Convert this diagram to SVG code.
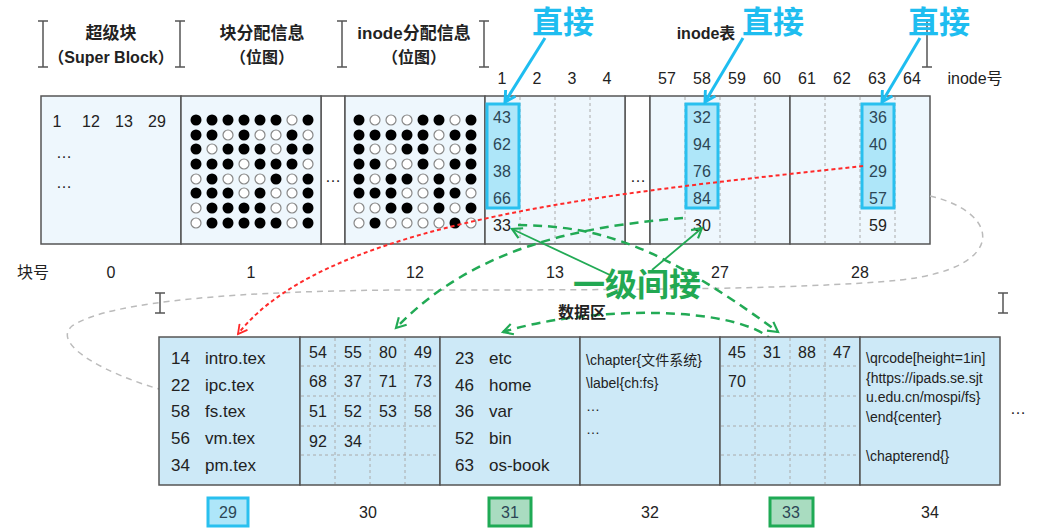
<svg xmlns="http://www.w3.org/2000/svg" xmlns:xlink="http://www.w3.org/1999/xlink" width="1048" height="531" viewBox="0 0 1048 531">
<style>
text{font-family:"Liberation Sans","Noto Sans CJK SC",sans-serif;fill:#222}
.hd{font-size:17px;font-weight:bold;text-anchor:middle}
.sub{font-size:16px;font-weight:bold;text-anchor:middle}
.n{font-size:16px;text-anchor:middle}
.hl{font-size:16px;text-anchor:middle;fill:#2c4656}
.t{font-size:17px}
.s{font-size:14px}
.blk{fill:#eef7fd;stroke:#555;stroke-width:1.5}
.blk2{fill:#cde9f7;stroke:#555;stroke-width:1.5}
.dv{stroke:#aaa;stroke-width:1;stroke-dasharray:3,3}
.br{stroke:#555;stroke-width:1.5;fill:none}
.hbox{fill:#aee6f9;stroke:#29c0ef;stroke-width:3}
.gbox{fill:#a9dcc0;stroke:#1faa55;stroke-width:3}
.f{fill:#000}
.o{fill:#fff;stroke:#888;stroke-width:1.2}
.big{font-size:31px;font-weight:bold;fill:#1ebdf0;text-anchor:middle}
.gbig{font-size:32px;font-weight:bold;fill:#22a852;text-anchor:middle}
.cy{stroke:#1ebdf0;stroke-width:3;fill:none}
.gd{stroke:#22aa55;stroke-width:2.5;fill:none;stroke-dasharray:9,6}
.gs{stroke:#22aa55;stroke-width:1.8;fill:none}
.rd{stroke:#ff2a2a;stroke-width:2;fill:none;stroke-dasharray:4,3}
.gr{stroke:#bbb;stroke-width:1.5;fill:none;stroke-dasharray:6,5}
</style>
<defs>
<circle id="f" r="5.5" class="f"/>
<circle id="o" r="5" class="o"/>
<marker id="ac" viewBox="0 0 12 12" refX="10" refY="6" markerWidth="14" markerHeight="14" markerUnits="userSpaceOnUse" orient="auto"><path d="M1,1 L10,6 L1,11" fill="none" stroke="#1ebdf0" stroke-width="2.5"/></marker>
<marker id="ag" viewBox="0 0 12 12" refX="10" refY="6" markerWidth="13" markerHeight="13" markerUnits="userSpaceOnUse" orient="auto"><path d="M1,1 L10,6 L1,11" fill="none" stroke="#22aa55" stroke-width="2"/></marker>
<marker id="ar" viewBox="0 0 12 12" refX="10" refY="6" markerWidth="12" markerHeight="12" markerUnits="userSpaceOnUse" orient="auto"><path d="M1,1 L10,6 L1,11" fill="none" stroke="#ff2a2a" stroke-width="1.8"/></marker>
</defs>
<rect width="1048" height="531" fill="#fff"/>

<g id="header">
<path class="br" d="M43,21V67M38,21H48M38,67H48"/>
<path class="br" d="M180,21V67M175,21H185M175,67H185"/>
<path class="br" d="M342,21V67M337,21H347M337,67H347"/>
<path class="br" d="M484,21V67M479,21H489M479,67H489"/>
<path class="br" d="M927,20V67M922,20H932M922,67H932"/>
<text class="hd" x="111" y="39">超级块</text>
<text class="sub" x="111" y="63">（Super Block）</text>
<text class="hd" x="262" y="39">块分配信息</text>
<text class="sub" x="262" y="63">（位图）</text>
<text class="hd" x="414" y="39">inode分配信息</text>
<text class="sub" x="414" y="63">（位图）</text>
<text class="sub" x="706" y="39">inode表</text>
<g id="inode-nums">
<text class="n" x="502" y="84">1</text><text class="n" x="537" y="84">2</text><text class="n" x="572" y="84">3</text><text class="n" x="607" y="84">4</text>
<text class="n" x="667" y="84">57</text><text class="n" x="702" y="84">58</text><text class="n" x="737" y="84">59</text><text class="n" x="772" y="84">60</text>
<text class="n" x="807" y="84">61</text><text class="n" x="842" y="84">62</text><text class="n" x="877" y="84">63</text><text class="n" x="912" y="84">64</text>
<text class="n" x="975" y="84">inode号</text>
</g>
</g>

<g id="top-row">
<rect x="321" y="96" width="24" height="148" fill="#fff" stroke="#555" stroke-width="1.5"/>
<text class="n" x="333" y="182">…</text>
<rect x="625" y="96" width="25" height="148" fill="#fff" stroke="#555" stroke-width="1.5"/>
<text class="n" x="638" y="182">…</text>
<g id="block0">
<rect class="blk" x="41" y="96" width="140" height="148"/>
<text class="n" x="57" y="127">1</text><text class="n" x="91" y="127">12</text><text class="n" x="124" y="127">13</text><text class="n" x="157" y="127">29</text>
<text class="n" x="64" y="158">…</text><text class="n" x="64" y="188">…</text>
</g>
<g id="block1">
<rect class="blk" x="181" y="96" width="140" height="148"/>
<use href="#f" x="196" y="120"/><use href="#f" x="212" y="120"/><use href="#f" x="228" y="120"/><use href="#f" x="244" y="120"/><use href="#f" x="260" y="120"/><use href="#f" x="276" y="120"/><use href="#o" x="292" y="120"/><use href="#f" x="308" y="120"/>
<use href="#f" x="196" y="135"/><use href="#f" x="212" y="135"/><use href="#o" x="228" y="135"/><use href="#f" x="244" y="135"/><use href="#o" x="260" y="135"/><use href="#o" x="276" y="135"/><use href="#f" x="292" y="135"/><use href="#o" x="308" y="135"/>
<use href="#f" x="196" y="149"/><use href="#o" x="212" y="149"/><use href="#f" x="228" y="149"/><use href="#f" x="244" y="149"/><use href="#f" x="260" y="149"/><use href="#o" x="276" y="149"/><use href="#f" x="292" y="149"/><use href="#f" x="308" y="149"/>
<use href="#f" x="196" y="164"/><use href="#f" x="212" y="164"/><use href="#f" x="228" y="164"/><use href="#o" x="244" y="164"/><use href="#f" x="260" y="164"/><use href="#f" x="276" y="164"/><use href="#f" x="292" y="164"/><use href="#o" x="308" y="164"/>
<use href="#o" x="196" y="179"/><use href="#f" x="212" y="179"/><use href="#o" x="228" y="179"/><use href="#o" x="244" y="179"/><use href="#o" x="260" y="179"/><use href="#f" x="276" y="179"/><use href="#o" x="292" y="179"/><use href="#f" x="308" y="179"/>
<use href="#f" x="196" y="193"/><use href="#f" x="212" y="193"/><use href="#f" x="228" y="193"/><use href="#o" x="244" y="193"/><use href="#f" x="260" y="193"/><use href="#o" x="276" y="193"/><use href="#o" x="292" y="193"/><use href="#f" x="308" y="193"/>
<use href="#o" x="196" y="208"/><use href="#f" x="212" y="208"/><use href="#f" x="228" y="208"/><use href="#f" x="244" y="208"/><use href="#f" x="260" y="208"/><use href="#o" x="276" y="208"/><use href="#o" x="292" y="208"/><use href="#f" x="308" y="208"/>
<use href="#o" x="196" y="223"/><use href="#f" x="212" y="223"/><use href="#f" x="228" y="223"/><use href="#f" x="244" y="223"/><use href="#f" x="260" y="223"/><use href="#f" x="276" y="223"/><use href="#o" x="292" y="223"/><use href="#f" x="308" y="223"/>
</g>
<g id="block12">
<rect class="blk" x="345" y="96" width="140" height="148"/>
<use href="#f" x="359" y="120"/><use href="#o" x="375" y="120"/><use href="#o" x="391" y="120"/><use href="#o" x="407" y="120"/><use href="#f" x="423" y="120"/><use href="#f" x="439" y="120"/><use href="#o" x="455" y="120"/><use href="#f" x="471" y="120"/>
<use href="#f" x="359" y="135"/><use href="#f" x="375" y="135"/><use href="#f" x="391" y="135"/><use href="#f" x="407" y="135"/><use href="#f" x="423" y="135"/><use href="#o" x="439" y="135"/><use href="#f" x="455" y="135"/><use href="#f" x="471" y="135"/>
<use href="#f" x="359" y="149"/><use href="#o" x="375" y="149"/><use href="#o" x="391" y="149"/><use href="#f" x="407" y="149"/><use href="#f" x="423" y="149"/><use href="#o" x="439" y="149"/><use href="#o" x="455" y="149"/><use href="#f" x="471" y="149"/>
<use href="#f" x="359" y="164"/><use href="#f" x="375" y="164"/><use href="#o" x="391" y="164"/><use href="#o" x="407" y="164"/><use href="#f" x="423" y="164"/><use href="#o" x="439" y="164"/><use href="#f" x="455" y="164"/><use href="#f" x="471" y="164"/>
<use href="#f" x="359" y="179"/><use href="#o" x="375" y="179"/><use href="#f" x="391" y="179"/><use href="#f" x="407" y="179"/><use href="#o" x="423" y="179"/><use href="#f" x="439" y="179"/><use href="#o" x="455" y="179"/><use href="#f" x="471" y="179"/>
<use href="#f" x="359" y="193"/><use href="#f" x="375" y="193"/><use href="#f" x="391" y="193"/><use href="#o" x="407" y="193"/><use href="#o" x="423" y="193"/><use href="#f" x="439" y="193"/><use href="#f" x="455" y="193"/><use href="#o" x="471" y="193"/>
<use href="#o" x="359" y="208"/><use href="#o" x="375" y="208"/><use href="#f" x="391" y="208"/><use href="#f" x="407" y="208"/><use href="#o" x="423" y="208"/><use href="#f" x="439" y="208"/><use href="#o" x="455" y="208"/><use href="#f" x="471" y="208"/>
<use href="#o" x="359" y="223"/><use href="#f" x="375" y="223"/><use href="#o" x="391" y="223"/><use href="#o" x="407" y="223"/><use href="#o" x="423" y="223"/><use href="#o" x="439" y="223"/><use href="#f" x="455" y="223"/><use href="#o" x="471" y="223"/>
</g>
<g id="block13">
<rect class="blk" x="485" y="96" width="140" height="148"/>
<path class="dv" d="M520,97V243M555,97V243M590,97V243"/>
<rect class="hbox" x="487" y="104" width="32" height="104"/>
<text class="hl" x="502" y="123">43</text><text class="hl" x="502" y="150">62</text><text class="hl" x="502" y="177">38</text><text class="hl" x="502" y="204">66</text>
<text class="n" x="502" y="231">33</text>
</g>
<g id="block27">
<rect class="blk" x="650" y="96" width="140" height="148"/>
<path class="dv" d="M685,97V243M720,97V243M755,97V243"/>
<rect class="hbox" x="686" y="104" width="32" height="104"/>
<text class="hl" x="702" y="123">32</text><text class="hl" x="702" y="150">94</text><text class="hl" x="702" y="177">76</text><text class="hl" x="702" y="204">84</text>
<text class="n" x="702" y="231">30</text>
</g>
<g id="block28">
<rect class="blk" x="790" y="96" width="140" height="148"/>
<path class="dv" d="M825,97V243M860,97V243M895,97V243"/>
<rect class="hbox" x="862" y="104" width="32" height="104"/>
<text class="hl" x="878" y="123">36</text><text class="hl" x="878" y="150">40</text><text class="hl" x="878" y="177">29</text><text class="hl" x="878" y="204">57</text>
<text class="n" x="878" y="231">59</text>
</g>
<g id="top-labels">
<text class="n" x="33" y="278">块号</text>
<text class="n" x="111" y="278">0</text><text class="n" x="251" y="278">1</text><text class="n" x="415" y="278">12</text>
<text class="n" x="555" y="278">13</text><text class="n" x="720" y="278">27</text><text class="n" x="860" y="278">28</text>
</g>
</g>

<g id="connectors">
<path class="gr" d="M930,196 C1000,212 1010,268 900,280 C800,290 600,290 400,290 C250,291 110,300 72,326 C50,345 110,375 159,389"/>
<path class="br" d="M160,293V313M155,293H165M155,313H165"/>
<path class="br" d="M1003,293V313M998,293H1008M998,313H1008"/>
<path class="rd" d="M863,166 C650,190 330,215 238,334" marker-end="url(#ar)"/>
<path class="gd" d="M518,225 C600,226 660,245 778,332" marker-end="url(#ag)"/>
<path class="gd" d="M683,218 C600,225 480,240 396,328" marker-end="url(#ag)"/>
<path class="gd" d="M774,342 C740,305 590,305 503,332" marker-end="url(#ag)"/>
<path class="gs" d="M610,275 L512,229" marker-end="url(#ag)"/>
<path class="gs" d="M652,270 L702,228" marker-end="url(#ag)"/>
<path class="cy" d="M545,38 L505,102" marker-end="url(#ac)"/>
<path class="cy" d="M743,38 L705,102" marker-end="url(#ac)"/>
<path class="cy" d="M920,38 L882,102" marker-end="url(#ac)"/>
</g>

<g id="labels">
<text class="big" x="563" y="33">直接</text>
<text class="big" x="773" y="33">直接</text>
<text class="big" x="939" y="33">直接</text>
<text class="gbig" x="637" y="296">一级间接</text>
<text class="sub" x="582" y="318">数据区</text>
</g>

<g id="bottom-row">
<g id="block29">
<rect class="blk2" x="159" y="337" width="141" height="148"/>
<text class="t" x="171" y="364">14</text><text class="t" x="205" y="364">intro.tex</text>
<text class="t" x="171" y="391">22</text><text class="t" x="205" y="391">ipc.tex</text>
<text class="t" x="171" y="417">58</text><text class="t" x="205" y="417">fs.tex</text>
<text class="t" x="171" y="444">56</text><text class="t" x="205" y="444">vm.tex</text>
<text class="t" x="171" y="471">34</text><text class="t" x="205" y="471">pm.tex</text>
<rect class="hbox" x="208" y="498" width="40" height="28"/>
<text class="hl" x="228" y="518">29</text>
</g>
<g id="block30">
<rect class="blk2" x="300" y="337" width="140" height="148"/>
<path class="dv" d="M335,338V484M370,338V484M405,338V484M301,366H439M301,396H439M301,426H439M301,455H439"/>
<text class="n" x="318" y="358">54</text><text class="n" x="353" y="358">55</text><text class="n" x="388" y="358">80</text><text class="n" x="423" y="358">49</text>
<text class="n" x="318" y="387">68</text><text class="n" x="353" y="387">37</text><text class="n" x="388" y="387">71</text><text class="n" x="423" y="387">73</text>
<text class="n" x="318" y="417">51</text><text class="n" x="353" y="417">52</text><text class="n" x="388" y="417">53</text><text class="n" x="423" y="417">58</text>
<text class="n" x="318" y="447">92</text><text class="n" x="353" y="447">34</text>
<text class="n" x="368" y="518">30</text>
</g>
<g id="block31">
<rect class="blk2" x="440" y="337" width="140" height="148"/>
<text class="t" x="455" y="364">23</text><text class="t" x="489" y="364">etc</text>
<text class="t" x="455" y="391">46</text><text class="t" x="489" y="391">home</text>
<text class="t" x="455" y="417">36</text><text class="t" x="489" y="417">var</text>
<text class="t" x="455" y="444">52</text><text class="t" x="489" y="444">bin</text>
<text class="t" x="455" y="471">63</text><text class="t" x="489" y="471">os-book</text>
<rect class="gbox" x="489" y="498" width="42" height="28"/>
<text class="hl" x="510" y="518">31</text>
</g>
<g id="block32">
<rect class="blk2" x="580" y="337" width="140" height="148"/>
<text class="s" x="586" y="365">\chapter{文件系统}</text>
<text class="s" x="586" y="388">\label{ch:fs}</text>
<text class="s" x="586" y="411">…</text>
<text class="s" x="586" y="434">…</text>
<text class="n" x="650" y="518">32</text>
</g>
<g id="block33">
<rect class="blk2" x="720" y="337" width="140" height="148"/>
<path class="dv" d="M755,338V484M790,338V484M825,338V484M721,366H859M721,396H859M721,426H859M721,455H859"/>
<text class="n" x="737" y="358">45</text><text class="n" x="772" y="358">31</text><text class="n" x="807" y="358">88</text><text class="n" x="842" y="358">47</text>
<text class="n" x="737" y="387">70</text>
<rect class="gbox" x="770" y="498" width="43" height="28"/>
<text class="hl" x="791" y="518">33</text>
</g>
<g id="block34">
<rect class="blk2" x="860" y="337" width="140" height="148"/>
<text class="s" x="866" y="363">\qrcode[height=1in]</text>
<text class="s" x="866" y="383">{https://ipads.se.sjt</text>
<text class="s" x="866" y="402">u.edu.cn/mospi/fs}</text>
<text class="s" x="866" y="422">\end{center}</text>
<text class="s" x="866" y="461">\chapterend{}</text>
<text class="n" x="930" y="518">34</text>
</g>
<text class="n" x="1018" y="414">…</text>
</g>
</svg>
